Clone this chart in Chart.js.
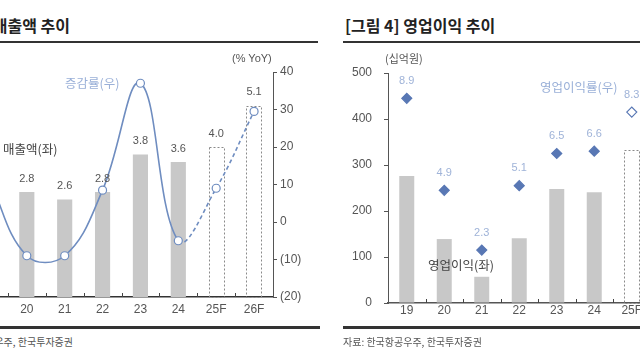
<!DOCTYPE html>
<html><head><meta charset="utf-8">
<script src="https://cdn.jsdelivr.net/npm/chart.js@4.4.1/dist/chart.umd.min.js"></script>
<style>
html,body{margin:0;padding:0;background:#fff;}
#wrap{position:relative;width:640px;height:360px;overflow:hidden;background:#fff;font-family:'Liberation Sans','Noto Sans CJK KR',sans-serif;}
.t{position:absolute;white-space:nowrap;line-height:1;transform:translateY(-50%);}
.title{font-family:'Noto Sans CJK KR',sans-serif;font-weight:700;font-size:16px;color:#222;}
.ann{font-family:'Noto Sans CJK KR',sans-serif;font-size:12.5px;}
.src{font-family:'Noto Sans CJK KR',sans-serif;font-size:10px;color:#555;}
.rule{position:absolute;background:#333;}
.cv{position:absolute;}
</style>
</head><body>
<div id="wrap">
  <div class="t title" style="right:570px;top:25px;">[그림 3] 매출액 추이</div>
  <div class="t title" style="left:345px;top:25px;">[그림 4] 영업이익 추이</div>
  <div class="rule" style="left:0;top:41px;width:318px;height:2px;"></div>
  <div class="rule" style="left:343px;top:41px;width:297px;height:2px;"></div>

  <canvas id="c1" class="cv" width="400" height="280" style="left:-60px;top:50px;"></canvas>
  <canvas id="c2" class="cv" width="420" height="280" style="left:328px;top:50px;"></canvas>

  <div class="t" style="left:232px;top:58px;font-family:'Liberation Sans',sans-serif;font-size:11px;color:#555;">(% YoY)</div>
  <div class="t ann" style="left:65px;top:83px;color:#9ab0d8;">증감률(우)</div>
  <div class="t ann" style="left:3px;top:149px;color:#444;">매출액(좌)</div>

  <div class="t ann" style="left:385px;top:58px;font-size:11px;color:#555;">(십억원)</div>
  <div class="t ann" style="left:540px;top:87px;color:#9ab0d8;">영업이익률(우)</div>
  <div class="t ann" style="left:428px;top:265px;color:#444;">영업이익(좌)</div>

  <div class="rule" style="left:0;top:326px;width:320px;height:3px;"></div>
  <div class="rule" style="left:343px;top:326px;width:297px;height:3px;"></div>
  <div class="t src" style="right:567px;top:342px;">자료: 한국항공우주, 한국투자증권</div>
  <div class="t src" style="left:343px;top:342px;">자료: 한국항공우주, 한국투자증권</div>
</div>
<script>
// ---- data ----
const categories = ['19', '20', '21', '22', '23', '24', '25F', '26F'];
const revenue = [3.1, 2.8, 2.6, 2.8, 3.8, 3.6, 4.0, 5.1];          // 조원 (left chart, bars)
const revenueGrowth = [11.5, -9, -9, 8.5, 37, -5, 9, 29.5];        // % YoY (left chart, line)
const opProfit = [276, 139, 57, 141, 248, 241, 333, 430];          // 십억원 (right chart, bars)
const opMargin = [8.9, 4.9, 2.3, 5.1, 6.5, 6.6, 8.3, 8.4];         // % (right chart, diamonds)
const forecastFrom = 6; // index of first forecast year (25F)

const barGray = '#c8c8c8';
const lineBlue = '#6f8dc0';
const diamondBlue = '#5877b4';
const lightBlue = '#9fb3d8';

Chart.defaults.font.family = "'Liberation Sans', 'Noto Sans CJK KR', sans-serif";
Chart.defaults.color = '#555';

const decor = {
  id: 'decor',
  afterDatasetDraw(chart, args, opts) {
    if (args.index !== opts.barIndex) return;
    const ctx = chart.ctx;
    ctx.save();
    ctx.setLineDash([2, 2]);
    ctx.strokeStyle = '#8a8a8a';
    ctx.lineWidth = 1;
    args.meta.data.forEach((el, i) => {
      if (i < forecastFrom) return;
      const p = el.getProps(['x', 'y', 'base', 'width'], true);
      ctx.strokeRect(Math.round(p.x - p.width / 2) + 0.5, Math.round(p.y) + 0.5, Math.round(p.width), Math.round(p.base - p.y));
    });
    ctx.restore();
  },
  afterDatasetsDraw(chart, args, opts) {
    const ctx = chart.ctx;
    const xs = chart.scales.x;
    const b = chart.chartArea.bottom;
    ctx.save();
    ctx.strokeStyle = '#444';
    ctx.lineWidth = 1;
    for (let i = 0; i < categories.length - 1; i++) {
      const px = Math.round((xs.getPixelForValue(i) + xs.getPixelForValue(i + 1)) / 2) + 0.5;
      ctx.beginPath(); ctx.moveTo(px, b); ctx.lineTo(px, b - 4); ctx.stroke();
    }
    ctx.font = "11px 'Liberation Sans', sans-serif";
    ctx.textAlign = 'center';
    ctx.textBaseline = 'bottom';
    const lm = chart.getDatasetMeta(opts.labelIndex);
    const vals = chart.data.datasets[opts.labelIndex].data;
    ctx.fillStyle = opts.labelColor;
    lm.data.forEach((el, i) => {
      ctx.fillText(vals[i].toFixed(1), el.x, el.y - opts.labelGap);
    });
    ctx.restore();
  }
};

new Chart(document.getElementById('c1'), {
  data: {
    labels: categories,
    datasets: [
      {
        type: 'line', data: revenueGrowth, yAxisID: 'y2', order: 0,
        borderColor: lineBlue, borderWidth: 1.6, tension: 0.4, fill: false,
        pointRadius: 4, pointBackgroundColor: '#fff', pointBorderColor: lineBlue, pointBorderWidth: 1.2,
        segment: { borderDash: c => c.p0DataIndex >= forecastFrom - 1 ? [4, 3] : undefined }
      },
      {
        type: 'bar', data: revenue, yAxisID: 'y', order: 1,
        backgroundColor: revenue.map((v, i) => i >= forecastFrom ? 'rgba(255,255,255,0)' : barGray),
        borderWidth: 0, categoryPercentage: 1, barPercentage: 0.4
      }
    ]
  },
  options: {
    responsive: false, animation: false,
    layout: { padding: { left: 30, top: 22, right: 0, bottom: 0 } },
    plugins: {
      legend: { display: false }, tooltip: { enabled: false },
      decor: { barIndex: 1, labelIndex: 1, labelColor: '#555', labelGap: 8 }
    },
    scales: {
      x: {
        grid: { drawOnChartArea: false, drawTicks: false },
        border: { color: '#333', width: 1.5 },
        ticks: { padding: 5, color: '#555', font: { size: 12 }, maxRotation: 0, autoSkip: false },
        afterFit: s => { s.height = 33; }
      },
      y: { display: false, min: 0, max: 6 },
      y2: {
        position: 'right', min: -20, max: 40,
        ticks: { stepSize: 10, padding: 3, color: '#555', font: { size: 12 }, callback: v => v < 0 ? '(' + (-v) + ')' : String(v) },
        grid: { drawOnChartArea: false, tickLength: 4, color: '#555' },
        border: { color: '#555', width: 1 },
        afterFit: s => { s.width = 67; }
      }
    }
  },
  plugins: [decor]
});

new Chart(document.getElementById('c2'), {
  data: {
    labels: categories,
    datasets: [
      {
        type: 'line', data: opMargin, yAxisID: 'y2', order: 0, showLine: false,
        pointStyle: 'rectRot', pointRadius: 5,
        pointBackgroundColor: opMargin.map((v, i) => i >= forecastFrom ? '#fff' : diamondBlue),
        pointBorderColor: diamondBlue, pointBorderWidth: 1.2
      },
      {
        type: 'bar', data: opProfit, yAxisID: 'y', order: 1,
        backgroundColor: opProfit.map((v, i) => i >= forecastFrom ? 'rgba(255,255,255,0)' : barGray),
        borderWidth: 0, categoryPercentage: 1, barPercentage: 0.4
      }
    ]
  },
  options: {
    responsive: false, animation: false,
    layout: { padding: { left: 0, top: 23, right: 60, bottom: 0 } },
    plugins: {
      legend: { display: false }, tooltip: { enabled: false },
      decor: { barIndex: 1, labelIndex: 0, labelColor: lightBlue, labelGap: 12 }
    },
    scales: {
      x: {
        grid: { drawOnChartArea: false, drawTicks: false },
        border: { color: '#555', width: 1.5 },
        ticks: { padding: 0, color: '#555', font: { size: 12 }, maxRotation: 0, autoSkip: false },
        afterFit: s => { s.height = 27; }
      },
      y: {
        position: 'left', min: 0, max: 500,
        ticks: { stepSize: 100, padding: 12, color: '#555', font: { size: 12 } },
        grid: { drawOnChartArea: false, tickLength: 4, color: '#555' },
        border: { color: '#555', width: 1 },
        afterFit: s => { s.width = 60; }
      },
      y2: { display: false, position: 'right', min: 0, max: 10 }
    }
  },
  plugins: [decor]
});
</script>
</body></html>
